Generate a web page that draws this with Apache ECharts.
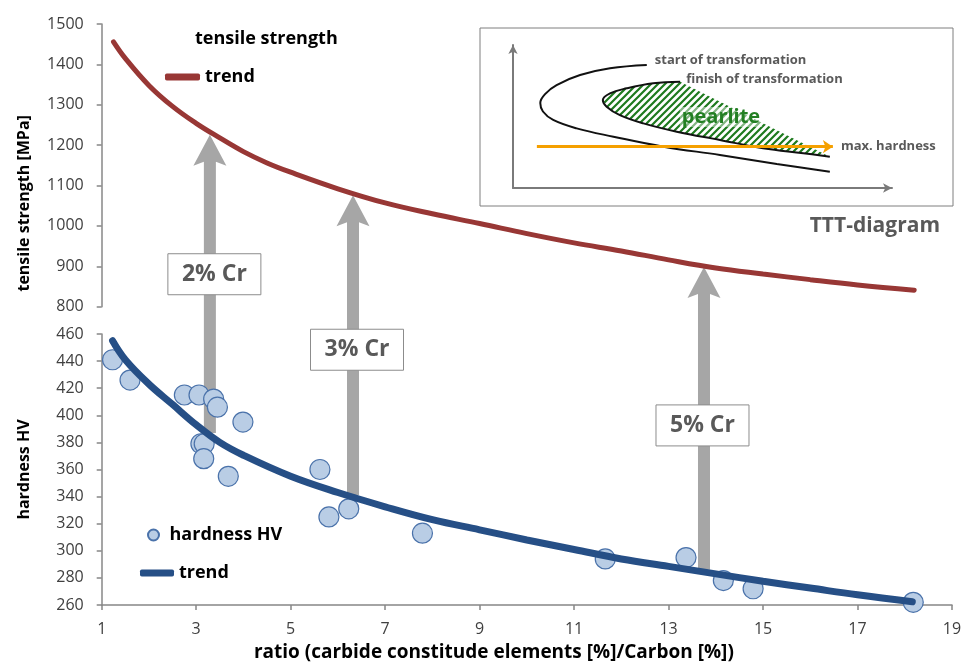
<!DOCTYPE html>
<html>
<head>
<meta charset="utf-8">
<script src="https://cdn.jsdelivr.net/npm/echarts@6/dist/echarts.min.js"></script>
<style>
html,body{margin:0;padding:0;background:#fff;}
#c{width:968px;height:668px;}
</style>
</head>
<body>
<div id="c"></div>
<script>
// ---------- data ----------
const xTicks = [1, 3, 5, 7, 9, 11, 13, 15, 17, 19];
const tensileTicks = [800, 900, 1000, 1100, 1200, 1300, 1400, 1500];
const hardnessTicks = [260, 280, 300, 320, 340, 360, 380, 400, 420, 440, 460];

// hardness HV measurements [ratio, HV]
const hardnessX = [1.23, 1.6, 2.75, 3.06, 3.37, 3.45, 3.1, 3.17, 3.16, 3.68, 3.99, 5.62, 5.81, 6.23, 7.79, 11.66, 13.37, 14.16, 14.79, 18.18];
const hardnessY = [441, 426, 415, 415, 412, 406, 379, 379, 368, 355, 395, 360, 325, 331, 313, 294, 295, 278, 272, 262];

// hardness trend
const hardTrendX = [1.23, 1.5, 2, 2.5, 3, 3.5, 4, 5, 6, 7, 8, 9, 10, 11, 12, 13, 14, 15, 16, 17, 18.16];
const hardTrendY = [455, 441, 423, 408, 393, 380, 370.5, 355, 343, 332.5, 323, 315.5, 308, 301, 294, 288.5, 283, 277.5, 272.5, 267.5, 262.4];

// tensile strength trend
const tensTrendX = [1.25, 1.5, 2, 2.5, 3, 3.5, 4, 4.5, 5, 6, 7, 8, 9, 10, 11, 12, 13, 14, 15, 16, 17, 18.2];
const tensTrendY = [1456, 1415, 1348, 1296, 1254, 1218, 1184, 1156, 1133, 1092, 1057, 1030, 1006, 981, 958, 938, 916, 896, 881, 867, 854, 841];

// Cr arrows: ratio, bottom (hardness HV), top (tensile MPa)
const arrowRatio = [3.29, 6.32, 13.75];
const arrowHardness = [387, 341, 286];
const arrowTensile = [1226, 1076, 898];
const arrowLabels = ['2% Cr', '3% Cr', '5% Cr'];

// TTT inset (schematic units 0..100)
const startCurveX = [83.6, 69.6, 54.6, 39.7, 26.5, 16.8, 10.6, 7.9, 7.2, 8.6, 11.5, 17.7, 25.6, 35.3];
const startCurveY = [11.4, 16.8, 23.1, 28.9, 35.9, 41.7, 47.6, 53.5, 59.5, 66.0, 72.0, 79.0, 83.7, 86.0];
const finishCurveX = [83.6, 76.6, 66.0, 54.6, 43.2, 34.4, 28.2, 24.7, 23.7, 25.6, 30.0, 37.0, 44.1];
const finishCurveY = [21.9, 24.3, 27.8, 33.6, 39.4, 45.2, 51.0, 56.9, 61.5, 66.2, 69.7, 73.2, 74.3];
const maxHardnessLine = [[6.3, 28.9], [84.4, 28.9]];

// ---------- helpers ----------
const zip = (a, b) => a.map((v, i) => [v, b[i]]);
const FONT = 'Open Sans';

function hatchCanvas() {
  const c = document.createElement('canvas');
  c.width = 7; c.height = 7;
  const g = c.getContext('2d');
  g.fillStyle = '#ffffff';
  g.fillRect(0, 0, 7, 7);
  g.strokeStyle = '#1e7a1e';
  g.lineWidth = 2.2;
  g.beginPath();
  g.moveTo(-1, 8); g.lineTo(8, -1);
  g.moveTo(-4.5, 4.5); g.lineTo(4.5, -4.5);
  g.moveTo(2.5, 11.5); g.lineTo(11.5, 2.5);
  g.stroke();
  return c;
}
const hatch = hatchCanvas();

const chart = echarts.init(document.getElementById('c'), null, {renderer: 'canvas'});

const axisLineStyle = {color: '#878787', width: 1.5};
const tickLabel = {color: '#404040', fontSize: 16, fontFamily: FONT, formatter: v => String(v)};
const legendText = {color: '#000', fontSize: 18, fontWeight: 'bold', fontFamily: FONT};
const insetText = {color: '#595959', fontSize: 13, fontWeight: 'bold', fontFamily: FONT};

const option = {
  animation: false,
  backgroundColor: '#fff',
  textStyle: {fontFamily: FONT},
  grid: [
    {left: 101.7, right: 16, top: 24, height: 282.7},
    {left: 101.7, right: 16, top: 334, bottom: 63},
    {left: 513, right: 76, top: 45, bottom: 480}
  ],
  xAxis: [
    {gridIndex: 0, type: 'value', min: xTicks[0], max: xTicks[xTicks.length - 1], interval: 2, show: false},
    {gridIndex: 1, type: 'value', min: xTicks[0], max: xTicks[xTicks.length - 1], interval: 2,
      axisLine: {show: true, lineStyle: axisLineStyle},
      axisTick: {show: true, length: 5, lineStyle: axisLineStyle},
      splitLine: {show: false},
      axisLabel: Object.assign({margin: 16}, tickLabel),
      name: 'ratio (carbide constitude elements [%]/Carbon [%])',
      nameLocation: 'middle', nameGap: 38,
      nameTextStyle: {color: '#000', fontSize: 19, fontWeight: 'bold', fontFamily: FONT, padding: [0, 66, 0, 0]}
    },
    {gridIndex: 2, type: 'value', min: 0, max: 100,
      axisLine: {show: true, symbol: ['none', 'arrow'], symbolSize: [7, 9], lineStyle: {color: '#7a7a7a', width: 2}},
      axisTick: {show: false}, axisLabel: {show: false}, splitLine: {show: false}}
  ],
  yAxis: [
    {gridIndex: 0, type: 'value', min: tensileTicks[0], max: tensileTicks[tensileTicks.length - 1], interval: 100,
      axisLine: {show: true, lineStyle: axisLineStyle},
      axisTick: {show: true, length: 5, lineStyle: axisLineStyle},
      splitLine: {show: false},
      axisLabel: Object.assign({margin: 18}, tickLabel),
      name: 'tensile strength [MPa]', nameLocation: 'middle', nameGap: 69,
      nameTextStyle: {color: '#000', fontSize: 16, fontWeight: 'bold', fontFamily: FONT, padding: [0, 76, 0, 0]}
    },
    {gridIndex: 1, type: 'value', min: hardnessTicks[0], max: hardnessTicks[hardnessTicks.length - 1], interval: 20,
      axisLine: {show: true, lineStyle: axisLineStyle},
      axisTick: {show: true, length: 5, lineStyle: axisLineStyle},
      splitLine: {show: false},
      axisLabel: Object.assign({margin: 18}, tickLabel),
      name: 'hardness HV', nameLocation: 'middle', nameGap: 69,
      nameTextStyle: {color: '#000', fontSize: 16, fontWeight: 'bold', fontFamily: FONT}
    },
    {gridIndex: 2, type: 'value', min: 0, max: 100,
      axisLine: {show: true, symbol: ['none', 'arrow'], symbolSize: [7, 9], lineStyle: {color: '#7a7a7a', width: 2}},
      axisTick: {show: false}, axisLabel: {show: false}, splitLine: {show: false}}
  ],
  legend: [
    {data: [{name: 'tensile strength', icon: 'none'}], left: 165, top: 30, padding: 0,
      itemWidth: 25, itemHeight: 7, textStyle: legendText, selectedMode: false},
    {data: [{name: 'tensile trend', icon: 'roundRect'}], left: 165, top: 68, padding: 0,
      itemWidth: 35, itemHeight: 7, textStyle: legendText, selectedMode: false,
      formatter: () => 'trend'},
    {data: [{name: 'hardness HV', icon: 'circle'}], left: 147, top: 526, padding: 0,
      itemWidth: 22, itemHeight: 11, textStyle: legendText, selectedMode: false},
    {data: [{name: 'hardness trend', icon: 'roundRect'}], left: 140, top: 564, padding: 0,
      itemWidth: 34, itemHeight: 7, textStyle: legendText, selectedMode: false,
      formatter: () => 'trend'}
  ],
  series: [
    {name: 'tensile strength', type: 'scatter', xAxisIndex: 0, yAxisIndex: 0, data: [],
      itemStyle: {color: '#983735'}},
    {name: 'tensile trend', type: 'line', xAxisIndex: 0, yAxisIndex: 0, smooth: 0.4,
      symbol: 'none', data: zip(tensTrendX, tensTrendY), z: 4,
      lineStyle: {color: '#983735', width: 5, cap: 'round'}, itemStyle: {color: '#983735'}},
    {name: 'hardness HV', type: 'scatter', xAxisIndex: 1, yAxisIndex: 1, symbolSize: 20, z: 3,
      data: zip(hardnessX, hardnessY),
      itemStyle: {color: '#b9cde5', borderColor: '#4a72aa', borderWidth: 1.2, opacity: 1}},
    {name: 'hardness trend', type: 'line', xAxisIndex: 1, yAxisIndex: 1, smooth: 0.4,
      symbol: 'none', data: zip(hardTrendX, hardTrendY), z: 4,
      lineStyle: {color: '#264f86', width: 7, cap: 'round'}, itemStyle: {color: '#264f86'}},
    // TTT inset: hatched pearlite area
    {name: 'pearlite', type: 'custom', xAxisIndex: 2, yAxisIndex: 2, data: [[0, 0]], silent: true, z: 2,
      renderItem: function (params, api) {
        const pts = finishCurveX.map((x, i) => api.coord([x, finishCurveY[i]]));
        return {type: 'polygon', shape: {points: pts},
          style: {fill: {image: hatch, repeat: 'repeat'}, stroke: null}};
      }},
    {name: 'start of transformation', type: 'line', xAxisIndex: 2, yAxisIndex: 2, smooth: 0.4,
      symbol: 'none', data: zip(startCurveX, startCurveY), z: 3,
      lineStyle: {color: '#111', width: 2},
      endLabel: Object.assign({show: true, formatter: 'start of transformation', distance: 8, offset: [0, -5]}, insetText)},
    {name: 'finish of transformation', type: 'line', xAxisIndex: 2, yAxisIndex: 2, smooth: 0.4,
      symbol: 'none', data: zip(finishCurveX, finishCurveY), z: 3,
      lineStyle: {color: '#111', width: 2},
      endLabel: Object.assign({show: true, formatter: 'finish of transformation', distance: 6, offset: [0, -2]}, insetText),
      markLine: {silent: true, symbol: ['none', 'arrow'], symbolSize: [10, 10],
        lineStyle: {color: '#f5a000', width: 3, type: 'solid'},
        label: Object.assign({show: true, position: 'end', formatter: 'max. hardness', distance: 8}, insetText),
        data: [[{coord: maxHardnessLine[0]}, {coord: maxHardnessLine[1]}]]}}
  ]
};
chart.setOption(option);

// ---------- annotations built via the chart's scales ----------
const labelFrac = [0.468, 0.515, 0.523];
const labelDx = [4.5, 4, -1.5];
const graphics = [
  {type: 'rect', z: -1, shape: {x: 480, y: 28, width: 473, height: 178},
    style: {fill: 'rgba(0,0,0,0)', stroke: '#7f7f7f', lineWidth: 1}},
  {type: 'text', z: 5, style: {text: 'pearlite', x: 721, y: 117, align: 'center', verticalAlign: 'middle',
    fill: '#237f23', font: 'bold 20px ' + FONT, backgroundColor: 'rgba(255,255,255,0.45)', padding: [0, 2]}},
  {type: 'text', style: {text: 'TTT-diagram', x: 940, y: 226, align: 'right', verticalAlign: 'middle',
    fill: '#595959', font: 'bold 21px ' + FONT}}
];
arrowRatio.forEach((r, i) => {
  const b = chart.convertToPixel({xAxisIndex: 1, yAxisIndex: 1}, [r, arrowHardness[i]]);
  const t = chart.convertToPixel({xAxisIndex: 0, yAxisIndex: 0}, [r, arrowTensile[i]]);
  const x = t[0], tip = t[1], bot = b[1];
  graphics.push({type: 'polygon', z: 0, shape: {points: [
      [x, tip], [x + 16.5, tip + 31], [x + 6, tip + 27], [x + 6, bot], [x - 6, bot], [x - 6, tip + 27], [x - 16.5, tip + 31]
    ]}, style: {fill: '#a6a6a6'}});
  const cy = tip + labelFrac[i] * (bot - tip);
  const cx = x + labelDx[i];
  graphics.push({type: 'rect', z: 1, shape: {x: cx - 46.5, y: cy - 20.5, width: 93, height: 41},
    style: {fill: '#fff', stroke: '#8c8c8c', lineWidth: 1}});
  graphics.push({type: 'text', z: 2, style: {text: arrowLabels[i], x: cx, y: cy, align: 'center', verticalAlign: 'middle',
    fill: '#595959', font: 'bold 23px ' + FONT}});
});
chart.setOption({graphic: graphics});
</script>
</body>
</html>
